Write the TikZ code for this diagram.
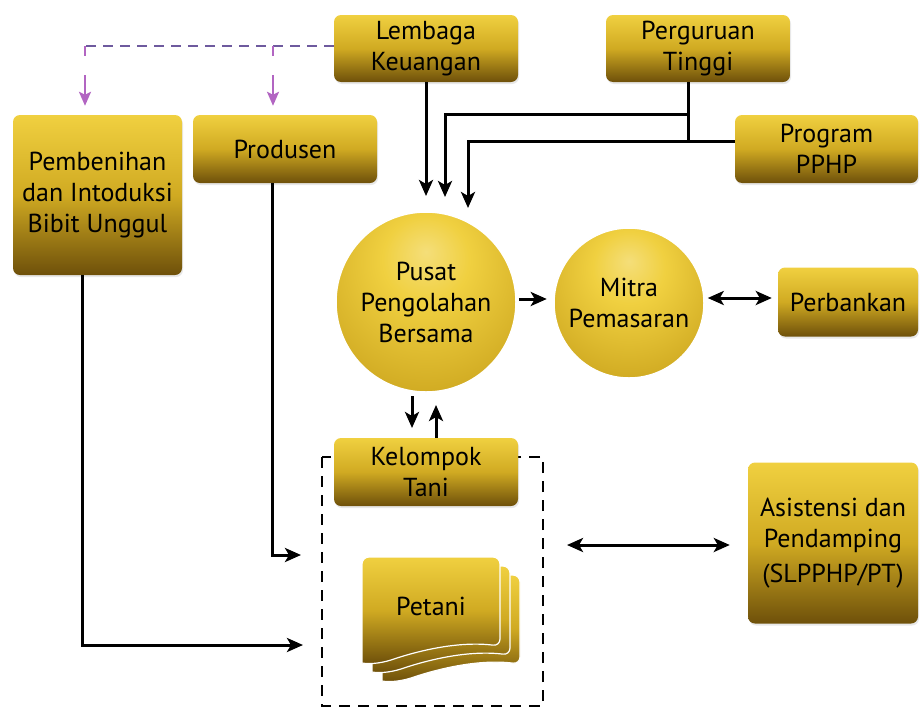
\documentclass[tikz,border=0pt]{standalone}
\usepackage{fontspec}
\setmainfont{PT Sans}
\usetikzlibrary{arrows.meta,positioning,calc,shadows}
\definecolor{goldhi}{HTML}{F0D040}
\definecolor{goldmid}{HTML}{D0AA22}
\definecolor{goldlo}{HTML}{6E500A}
\definecolor{dashblue}{HTML}{6E5A9E}
\definecolor{dashpink}{HTML}{B265C2}
\pgfdeclareradialshading{goldball}{\pgfpoint{0bp}{14bp}}{%
  color(0bp)=(goldhi!70!white);color(12bp)=(goldhi);color(34bp)=(goldmid);
  color(50bp)=(goldlo!70!goldmid);color(80bp)=(goldlo)}
\tikzset{
  link/.style={line width=3pt,-{Stealth[length=16pt,width=14pt,inset=4pt]}},
  both/.style={line width=3pt,{Stealth[length=16pt,width=14pt,inset=4pt]}-{Stealth[length=16pt,width=14pt,inset=4pt]}},
  fund/.style={dash pattern=on 10pt off 7pt,line width=2.4pt,dashblue}}
\begin{document}
\begin{tikzpicture}[x=1pt,y=-1pt,
  box/.style={rounded corners=7pt,top color=goldhi,bottom color=goldlo,middle color=goldmid,text=black,align=center,
    font=\fontsize{26}{31}\selectfont,inner sep=0pt,drop shadow={opacity=0.18,shadow xshift=1pt,shadow yshift=-2pt}},
  ball/.style={circle,shading=goldball,text=black,align=center,
    font=\fontsize{26}{31}\selectfont,inner sep=0pt,draw=white,line width=1.5pt}]
\useasboundingbox (0,0) rectangle (920,707);

% boxes
\node[box,minimum width=184,minimum height=67] (lk) at (426,48.5) {Lembaga\\Keuangan};
\node[box,minimum width=184,minimum height=67] (pt) at (698,48.5) {Perguruan\\Tinggi};
\node[box,minimum width=183,minimum height=68] (pphp) at (826.5,149) {Program\\PPHP};
\node[box,minimum width=169,minimum height=160] (bibit) at (97.5,195) {Pembenihan\\dan Intoduksi\\Bibit Unggul};
\node[box,minimum width=184,minimum height=68] (prod) at (285,149) {Produsen};
\node[ball,minimum size=180] (pusat) at (426,302) {Pusat\\Pengolahan\\Bersama};
\node[ball,minimum size=150] (mitra) at (629,303) {Mitra\\Pemasaran};
\node[box,minimum width=140,minimum height=69] (bank) at (848,302) {Perbankan};
\node[box,minimum width=170,minimum height=161] (asis) at (833,543) {Asistensi dan\\Pendamping\\[4pt](SLPPHP/PT)};

% farmer group frame
\draw[dash pattern=on 11pt off 8pt,line width=2.6pt] (322,457) rectangle (543,706);
\node[box,minimum width=184,minimum height=68] (kt) at (426,472) {Kelompok\\Tani};

% stacked cards
\foreach \d in {20,10,0}
  \shade[top color=goldhi,bottom color=goldlo,middle color=goldmid,draw=white,line width=1.2pt,shift={(\d,0.9*\d)},rounded corners=7pt]
    (362,557) -- (500,557) -- (500,646) [sharp corners] .. controls (460,641) and (420,650) .. (391,660)
    .. controls (378,664) and (368,664) .. (362,663) [rounded corners=7pt] -- cycle;
\node[font=\fontsize{26}{31}\selectfont] (petani) at (431,606) {Petani};

% funding (dashed)
\coordinate (fL) at (85,46);
\coordinate (fP) at (273,46);
\draw[fund] (lk.west |- fL) -- (fL);
\draw[fund,dashpink] (fL) -- ++(0,14);
\draw[fund,dashpink] (fP) -- ++(0,14);
\draw[line width=2.4pt,dashpink,-{Stealth[length=14pt,width=12pt,inset=3pt]}] (fL |- 0,75) -- ($(fL |- bibit.north)+(0,-9)$);
\draw[line width=2.4pt,dashpink,-{Stealth[length=14pt,width=12pt,inset=3pt]}] (fP |- 0,75) -- ($(fP |- prod.north)+(0,-9)$);

% to pusat
\coordinate (j1) at (688,114);
\coordinate (j2) at (688,141);
\draw[line width=3pt] (pt.south -| j1) -- (j2);
\draw[link] (lk.south) -- (426,196);
\draw[link] (j1) -| (445,197);
\draw[link] (pphp.west |- j2) -| (468,208);

% right side
\draw[link] ($(pusat.east)+(2,-3)$) -- ++(28,0);
\draw[both] ($(mitra.east)+(3,-5)$) -- ($(bank.west |- 0,298)+(-6,0)$);
\draw[both] (567,545) -- ($(asis.west |- 0,545)+(-18,0)$);

% pusat <-> kelompok
\draw[link] (412,396) -- (412,428);
\draw[link] (436,438) -- (436,405);

% supply lines
\draw[link] (prod.south -| 272,0) |- (301,555);
\draw[link] (bibit.south -| 82,0) |- (303,645);
\end{tikzpicture}
\end{document}
